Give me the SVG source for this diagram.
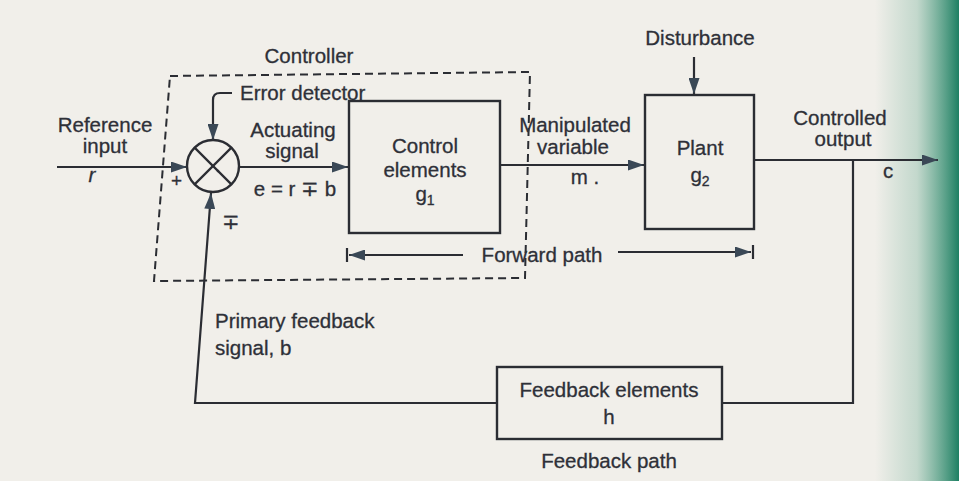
<svg xmlns="http://www.w3.org/2000/svg" width="959" height="481" viewBox="0 0 959 481">
<defs>
  <linearGradient id="edge" x1="0" y1="0" x2="1" y2="0">
    <stop offset="0" stop-color="#2a8c6c" stop-opacity="0"/>
    <stop offset="0.5" stop-color="#3a9474" stop-opacity="0.25"/>
    <stop offset="1" stop-color="#137a5c" stop-opacity="0.95"/>
  </linearGradient>
  <marker id="arr" markerUnits="userSpaceOnUse" markerWidth="17" markerHeight="11" refX="16" refY="5.5" orient="auto">
    <path d="M0,0 L16,5.5 L0,11 Z" fill="#3a4856"/>
  </marker>
  <style>
    .bg { fill: #f1efea; }
    .ln { fill: none; stroke: #2b2d33; stroke-width: 2.2; }
    .box { fill: none; stroke: #2b2d33; stroke-width: 2.4; }
    .dash { fill: none; stroke: #2b2d33; stroke-width: 2; stroke-dasharray: 8 5; }
    .t { font-family: "Liberation Sans", Arial, sans-serif; font-size: 20.5px; fill: #2e3038; stroke: #2e3038; stroke-width: 0.3; }
    .c { text-anchor: middle; }
    .sub { font-size: 14px; }
    .pm { font-size: 19px; }
  </style>
</defs>
<rect class="bg" x="0" y="0" width="959" height="481"/>
<rect x="875" y="0" width="84" height="481" fill="url(#edge)"/>

<g id="controller">
  <polygon class="dash" points="170,76 530,72 525,278 154,281"/>
  <text class="t c" x="309" y="63">Controller</text>
</g>

<g id="error-detector">
  <circle cx="213" cy="166" r="26" class="box" fill="none"/>
  <line class="ln" x1="194.6" y1="147.6" x2="231.4" y2="184.4"/>
  <line class="ln" x1="231.4" y1="147.6" x2="194.6" y2="184.4"/>
  <circle cx="218" cy="171" r="1.3" fill="#2b2d33"/>
  <text class="t" x="240" y="100">Error detector</text>
  <text class="t pm" x="171" y="187">+</text>
  <text class="t" x="222" y="229">∓</text>
</g>

<g id="control-elements">
  <rect class="box" x="349" y="101" width="151" height="132"/>
  <text class="t c" x="425" y="153">Control</text>
  <text class="t c" x="425" y="177">elements</text>
  <text class="t c" x="425" y="201">g<tspan class="sub" dy="4">1</tspan></text>
</g>

<g id="plant">
  <rect class="box" x="645" y="95" width="109" height="134"/>
  <text class="t c" x="700" y="155">Plant</text>
  <text class="t c" x="700" y="182">g<tspan class="sub" dy="4">2</tspan></text>
  <text class="t c" x="700" y="45">Disturbance</text>
</g>

<g id="feedback-elements">
  <rect class="box" x="497" y="367" width="225" height="72"/>
  <text class="t c" x="609" y="397">Feedback elements</text>
  <text class="t c" x="609" y="424">h</text>
  <text class="t c" x="609" y="468">Feedback path</text>
</g>

<g id="connectors">
  <line class="ln" x1="57" y1="167" x2="187" y2="167" marker-end="url(#arr)"/>
  <path class="ln" d="M232,93 L220,93 Q213,93 213,100 L213,140" marker-end="url(#arr)"/>
  <line class="ln" x1="239" y1="167" x2="348" y2="167" marker-end="url(#arr)"/>
  <line class="ln" x1="500" y1="165" x2="644" y2="165" marker-end="url(#arr)"/>
  <line class="ln" x1="694" y1="57" x2="694" y2="94" marker-end="url(#arr)"/>
  <line class="ln" x1="754" y1="160" x2="938" y2="160" marker-end="url(#arr)"/>
  <polyline class="ln" points="853,160 853,403 722,403"/>
  <polyline class="ln" points="497,403 195,403 211,193" marker-end="url(#arr)"/>
  <line class="ln" x1="463" y1="255" x2="349" y2="255" marker-end="url(#arr)"/>
  <line class="ln" x1="347" y1="248" x2="347" y2="262"/>
  <line class="ln" x1="618" y1="252" x2="751" y2="252" marker-end="url(#arr)"/>
  <line class="ln" x1="753" y1="245" x2="753" y2="259"/>
</g>

<g id="labels">
  <text class="t c" x="105" y="132">Reference</text>
  <text class="t c" x="105" y="153">input</text>
  <text class="t c" x="92" y="182" font-style="italic">r</text>
  <text class="t c" x="293" y="137">Actuating</text>
  <text class="t c" x="292" y="158">signal</text>
  <text class="t c" x="295" y="196">e = r ∓ b</text>
  <text class="t c" x="575" y="132">Manipulated</text>
  <text class="t c" x="573" y="154">variable</text>
  <text class="t c" x="585" y="184">m .</text>
  <text class="t c" x="542" y="262">Forward path</text>
  <text class="t c" x="840" y="125">Controlled</text>
  <text class="t c" x="843" y="146">output</text>
  <text class="t c" x="888" y="178">c</text>
  <text class="t" x="215" y="328">Primary feedback</text>
  <text class="t" x="215" y="355">signal, b</text>
</g>
</svg>
